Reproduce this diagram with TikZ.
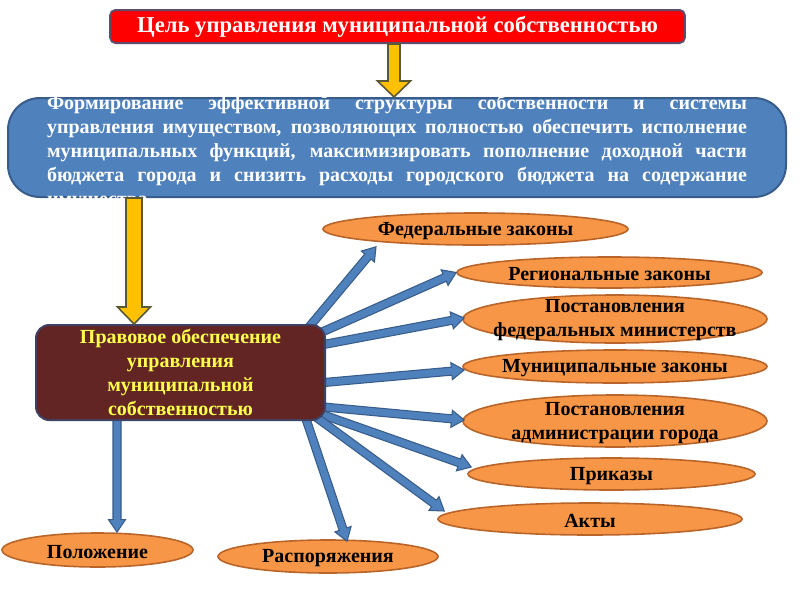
\documentclass[tikz,border=0pt]{standalone}
\usepackage{fontspec}
\setmainfont{Liberation Serif}
\usetikzlibrary{calc,shapes.geometric}
\definecolor{titlered}{HTML}{FF0000}
\definecolor{titleborder}{HTML}{5F4B6B}
\definecolor{bluefill}{HTML}{4F81BD}
\definecolor{blueborder}{HTML}{385D8A}
\definecolor{arrowyellow}{HTML}{FFC000}
\definecolor{yellowborder}{HTML}{595933}
\definecolor{maroonfill}{HTML}{632523}
\definecolor{maroonborder}{HTML}{404063}
\definecolor{legaltext}{HTML}{FFFF4D}
\definecolor{orangefill}{HTML}{F79646}
\definecolor{orangeborder}{HTML}{B9652A}
\newcommand{\blockarr}[6]{% style, from, to, half shaft, half head, head length
  \coordinate (bah) at ($(#3)!#6!(#2)$);
  \filldraw[#1] ($(#2)!#4!90:(#3)$) -- ($(bah)!#4!-90:(#2)$) -- ($(bah)!#5!-90:(#2)$) -- (#3)
    -- ($(bah)!#5!90:(#2)$) -- ($(bah)!#4!90:(#2)$) -- ($(#2)!#4!-90:(#3)$) -- cycle;
}
\begin{document}
\begin{tikzpicture}[x=0.75pt,y=-0.75pt,
  titlebox/.style={draw=titleborder, line width=1.5pt, fill=titlered, rounded corners=4pt,
    minimum width=431pt, minimum height=24.75pt, inner sep=0pt, text=white,
    font=\fontsize{17}{20}\selectfont\bfseries},
  goalbox/.style={draw=blueborder, line width=1.5pt, fill=bluefill, rounded corners=24pt,
    minimum width=583.5pt, minimum height=74.25pt, inner sep=0pt},
  goaltext/.style={text=white, text width=525pt, align=justify,
    font=\fontsize{15}{18}\selectfont\bfseries, inner sep=0pt},
  legalbox/.style={draw=maroonborder, line width=1.5pt, fill=maroonfill, rounded corners=10pt,
    minimum width=216.75pt, minimum height=71.25pt, inner sep=0pt, text=legaltext,
    align=center, font=\fontsize{15}{18}\selectfont\bfseries},
  oval/.style={ellipse, draw=orangeborder, line width=1.2pt, fill=orangefill, inner sep=0pt},
  ovaltext/.style={text=black, align=center, font=\fontsize{15}{18}\selectfont\bfseries, inner sep=0pt, yshift=-1.5pt},
  yarrow/.style={fill=arrowyellow, draw=yellowborder, line width=1.2pt},
  barrow/.style={fill=bluefill, draw=blueborder, line width=0.8pt}
]
\useasboundingbox[fill=white] (0,0) rectangle (800,600);

% goal box
\node[goalbox, label={[goaltext,yshift=-4pt]center:{Формирование эффективной структуры собственности и системы\linebreak
управления имуществом, позволяющих полностью обеспечить исполнение\linebreak
муниципальных функций, максимизировать пополнение доходной части\linebreak
бюджета города и снизить расходы городского бюджета на содержание\linebreak
имущества}}] (goal) at (397,147.5) {};

% title
\node[titlebox] (title) at (397.5,26.5) {Цель управления муниципальной собственностью};

% ovals
\node[oval, minimum width=228.75pt, minimum height=24pt, label={[ovaltext]center:Федеральные законы}] (fed) at (475.5,229) {};
\node[oval, minimum width=228.75pt, minimum height=23.25pt, label={[ovaltext]center:Региональные законы}] (reg) at (609.5,272.5) {};
\node[oval, minimum width=228pt, minimum height=36pt, label={[ovaltext,yshift=1pt]center:{Постановления\\федеральных министерств}}] (pfm) at (615,319) {};
\node[oval, minimum width=228pt, minimum height=24.75pt, label={[ovaltext]center:Муниципальные законы}] (mun) at (615,366.5) {};
\node[oval, minimum width=228pt, minimum height=39pt, label={[ovaltext]center:{Постановления\\администрации города}}] (adm) at (615,421) {};
\node[oval, minimum width=215.25pt, minimum height=24pt, label={[ovaltext]center:Приказы}] (prik) at (611.5,474) {};
\node[oval, minimum width=228pt, minimum height=24pt, label={[ovaltext]center:Акты}] (akty) at (590,519) {};
\node[oval, minimum width=143.25pt, minimum height=25.5pt, label={[ovaltext]center:Положение}] (polo) at (97.5,550) {};
\node[oval, minimum width=165pt, minimum height=24.75pt, label={[ovaltext]center:Распоряжения}] (rasp) at (328,556.5) {};

% legal box position (drawn later, on top of arrow tails)
\path (180.5,372.5) coordinate (legalc);

% blue arrows
\coordinate (a1s) at ($(legalc)+(124,-40)$);
\coordinate (a1e) at ($(fed.south)+(-99.5,1)$);
\coordinate (a2s) at ($(legalc)+(136,-38)$);
\coordinate (a2e) at (reg.west);
\coordinate (a3s) at ($(legalc)+(138,-27)$);
\coordinate (a3e) at ($(pfm.west)+(2,-1)$);
\coordinate (a4s) at ($(legalc)+(138,10.5)$);
\coordinate (a4e) at ($(mun.west)+(2,3.5)$);
\coordinate (a5s) at ($(legalc)+(138,34)$);
\coordinate (a5e) at ($(adm.west)+(2,-1)$);
\coordinate (a6s) at ($(legalc)+(136,40)$);
\coordinate (a6e) at ($(prik.west)+(4,-7)$);
\coordinate (a7s) at ($(legalc)+(132,42)$);
\coordinate (a7e) at ($(akty.west)+(7,-8)$);
\coordinate (a8s) at ($(legalc)+(124,42)$);
\coordinate (a8e) at ($(rasp.north)+(19,2)$);
\coordinate (a9s) at ($(legalc)+(-63.5,40)$);
\coordinate (a9e) at ($(polo.north)+(19.5,0)$);
\foreach \k in {1,...,9}{\blockarr{barrow}{a\k s}{a\k e}{3pt}{6.4pt}{9.5pt}}

% legal box
\node[legalbox] (legal) at (legalc) {Правовое обеспечение\\управления\\муниципальной\\собственностью};

% yellow arrows
\coordinate (y1s) at ($(title.south)+(-3.5,0)$);
\coordinate (y1e) at (y1s |- goal.north);
\blockarr{yarrow}{y1s}{y1e}{4.5pt}{12.4pt}{12pt}
\coordinate (y2e) at ($(legal.north)+(-46.5,0)$);
\coordinate (y2s) at (y2e |- goal.south);
\blockarr{yarrow}{y2s}{y2e}{6pt}{12.4pt}{12.75pt}
\end{tikzpicture}
\end{document}
